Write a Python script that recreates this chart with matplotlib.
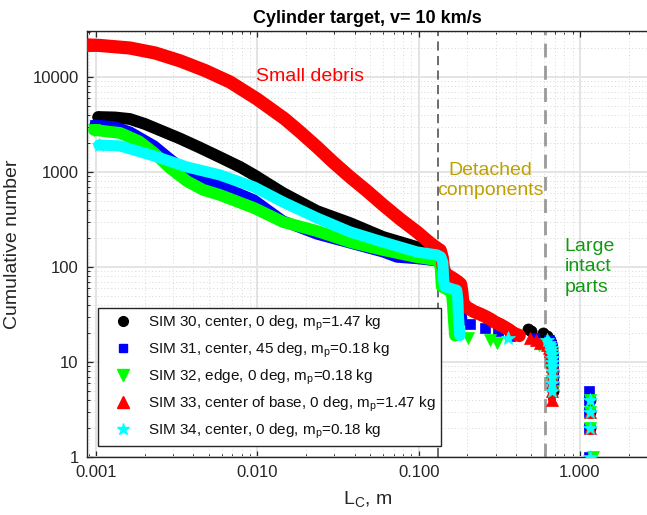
import matplotlib
matplotlib.use('Agg')
import matplotlib.pyplot as plt
from matplotlib.lines import Line2D
from matplotlib.ticker import FixedLocator, FixedFormatter, NullFormatter

plt.rcParams['font.family'] = ['Liberation Sans', 'DejaVu Sans']
plt.rcParams['mathtext.default'] = 'regular'

# ---------------- data ----------------
# SIM 30 (black circles)
s30_x = [0.00103, 0.00131, 0.00162, 0.00201, 0.00249, 0.00331, 0.00441, 0.00586, 0.0078,
         0.00953, 0.0144, 0.0234, 0.0375, 0.0601, 0.0976, 0.1298, 0.137, 0.141, 0.143,
         0.150, 0.170, 0.177, 0.179, 0.182]
s30_n = [3790, 3750, 3610, 3200, 2750, 2250, 1800, 1430, 1130,
         930, 601, 388, 290, 207, 162, 140, 130, 110, 75,
         63, 58, 50, 35, 28]
s30_px = [0.310, 0.318, 0.328, 0.476, 0.500, 0.590, 0.620]
s30_pn = [26, 25, 23, 22, 21, 20, 19]
s30_cx = [0.635, 0.648, 0.658, 0.664, 0.668, 0.670, 0.672, 0.673, 0.674, 0.675, 0.676, 0.676, 0.677, 0.677]
s30_cn = [18, 17, 16, 15, 14, 13, 12, 11, 10, 9, 8, 7, 6, 5]
s30_lx = [1.15, 1.15, 1.15, 1.15]
s30_ln = [4, 3, 2, 1]

# SIM 31 (blue squares)
s31_x = [0.000985, 0.00131, 0.00162, 0.00229, 0.00287, 0.00366, 0.00473, 0.00586, 0.00953,
         0.0144, 0.0234, 0.0375, 0.0601, 0.0733, 0.100, 0.1298, 0.138, 0.142, 0.150,
         0.170, 0.178, 0.181, 0.183, 0.185]
s31_n = [3125, 2976, 2636, 1879, 1371, 1000, 824, 720, 507,
         305, 222, 179, 144, 127, 122, 116, 110, 75, 62,
         58, 57, 50, 35, 27]
s31_px = [0.208, 0.258, 0.310, 0.368, 0.520]
s31_pn = [25, 23, 21, 19, 18]
s31_cx = [0.640, 0.652, 0.662, 0.668, 0.672, 0.675, 0.677, 0.678, 0.679, 0.680, 0.681, 0.682]
s31_cn = [17, 16, 15, 14, 13, 12, 11, 10, 9, 8, 7, 6]
s31_lx = [1.14, 1.14, 1.14, 1.14, 1.14]
s31_ln = [5, 4, 3, 2, 1]

# SIM 32 (green down-triangles)
s32_x = [0.00097, 0.00141, 0.00185, 0.00229, 0.00287, 0.00366, 0.0046, 0.00586, 0.00953,
         0.0144, 0.0234, 0.0375, 0.0601, 0.0976, 0.1298, 0.134, 0.137, 0.138, 0.139,
         0.150, 0.160, 0.163, 0.165, 0.168]
s32_n = [2768, 2575, 2100, 1585, 1100, 800, 650, 573, 418,
         298, 239, 183, 151, 127, 118, 112, 95, 75, 62,
         58, 55, 40, 28, 19]
s32_px = [0.202, 0.277, 0.305, 0.560]
s32_pn = [18, 17, 16, 15]
s32_cx = [0.630, 0.645, 0.656, 0.663, 0.667, 0.670, 0.672, 0.674, 0.675, 0.676]
s32_cn = [14, 13, 12, 11, 10, 9, 8, 7, 6, 5]
s32_lx = [1.16, 1.16, 1.16, 1.20]
s32_ln = [4, 3, 2, 1]

# SIM 33 (red up-triangles)
s33_x = [0.000891, 0.00106, 0.00162, 0.00232, 0.00331, 0.00473, 0.00676, 0.00995, 0.0148,
         0.0184, 0.0234, 0.0294, 0.0375, 0.0478, 0.0601, 0.0766, 0.0976, 0.1175, 0.1298,
         0.136, 0.140, 0.142, 0.146, 0.155, 0.165, 0.175, 0.182, 0.185, 0.187, 0.190,
         0.202, 0.220, 0.240, 0.260, 0.280, 0.300, 0.330, 0.360, 0.390, 0.420]
s33_n = [21730, 21460, 20180, 17900, 14800, 11700, 8860, 5860, 3612,
         2636, 1834, 1274, 886, 631, 450, 320, 234, 179, 158,
         150, 125, 100, 85, 80, 75, 70, 66, 55, 45, 40,
         37, 34, 32, 30, 28, 26, 24, 22, 20, 19]
s33_px = [0.490, 0.530, 0.565]
s33_pn = [18, 17, 16]
s33_cx = [0.620, 0.640, 0.650, 0.660, 0.665, 0.668, 0.670, 0.670, 0.672, 0.672, 0.670, 0.670]
s33_cn = [15, 14, 13, 12, 11, 10, 9, 8, 7, 6, 5, 4]
s33_lx = [1.15, 1.15, 1.15]
s33_ln = [3, 2, 1]

# SIM 34 (cyan stars)
s34_x = [0.00104, 0.00141, 0.00229, 0.00366, 0.00586, 0.00953, 0.0144, 0.0234, 0.0375,
         0.0601, 0.0976, 0.1298, 0.137, 0.141, 0.142, 0.143, 0.145, 0.155, 0.165,
         0.172, 0.175, 0.176, 0.178, 0.180]
s34_n = [1925, 1879, 1473, 1129, 930, 695, 483, 328, 234,
         183, 144, 134, 128, 112, 90, 72, 62, 60, 58,
         57, 45, 32, 24, 19]
s34_px = [0.358]
s34_pn = [18]
s34_cx = [0.620, 0.640, 0.650, 0.660, 0.665, 0.670, 0.670, 0.672, 0.672, 0.675, 0.675, 0.672, 0.670]
s34_cn = [17, 16, 15, 14, 13, 12, 11, 10, 9, 8, 7, 6, 5]
s34_lx = [1.15, 1.15, 1.15, 1.15]
s34_ln = [4, 3, 2, 1]

labels = [r'SIM 30, center, 0 deg, m$_p$=1.47 kg',
          r'SIM 31, center, 45 deg, m$_p$=0.18 kg',
          r'SIM 32, edge, 0 deg, m$_p$=0.18 kg',
          r'SIM 33, center of base, 0 deg, m$_p$=1.47 kg',
          r'SIM 34, center, 0 deg, m$_p$=0.18 kg']
colors = ['#000000', '#0000FF', '#00FF00', '#FF0000', '#00FFFF']
markers = ['o', 's', 'v', '^', '*']
msizes = [8, 7, 9, 9, 10]
lwidths = [8.5, 8, 8.5, 9.5, 8]

xticks = [0.001, 0.01, 0.1, 1.0]
xticklabels = ['0.001', '0.010', '0.100', '1.000']
yticks = [1, 10, 100, 1000, 10000]
yticklabels = ['1', '10', '100', '1000', '10000']

boundary1 = 0.131
boundary2 = 0.607

# ---------------- figure ----------------
fig = plt.figure(figsize=(6.47, 5.15), dpi=100)
ax = fig.add_axes([87 / 647, 58 / 515, 561 / 647, 426 / 515])
ax.set_xscale('log')
ax.set_yscale('log')
ax.set_xlim(0.000878, 2.64)
ax.set_ylim(1, 30480)

ax.set_axisbelow(True)
ax.grid(True, which='major', color='#e4e4e4', lw=1.4, ls='-')
ax.grid(True, which='minor', color='#d8d8d8', lw=0.7, ls=(0, (1, 2.5)))

ax.axvline(boundary1, color='#444444', lw=1.1, ls=(0, (6, 3.5)), zorder=1.5)
ax.axvline(boundary2, color='#9a9a9a', lw=2.0, ls=(0, (5, 3)), zorder=1.5)

series = [
    (s30_x, s30_n, s30_px, s30_pn, s30_cx, s30_cn, s30_lx, s30_ln),
    (s31_x, s31_n, s31_px, s31_pn, s31_cx, s31_cn, s31_lx, s31_ln),
    (s32_x, s32_n, s32_px, s32_pn, s32_cx, s32_cn, s32_lx, s32_ln),
    (s33_x, s33_n, s33_px, s33_pn, s33_cx, s33_cn, s33_lx, s33_ln),
    (s34_x, s34_n, s34_px, s34_pn, s34_cx, s34_cn, s34_lx, s34_ln),
]

for i, (bx, bn, px, pn, cx, cn, lx, ln) in enumerate(series):
    c, m, ms, lw = colors[i], markers[i], msizes[i], lwidths[i]
    z = 3 + i
    kw = dict(color=c, marker=m, ms=ms, mec=c, mew=0.5, zorder=z)
    ax.plot(bx, bn, lw=lw, solid_capstyle='round', solid_joinstyle='round',
            markevery=[0], **kw)
    ax.plot(px, pn, ls='none', **kw)
    ax.plot(cx, cn, lw=lw * 0.6, solid_capstyle='round', **kw)
    ax.plot(lx, ln, ls='none', **kw)

ax.xaxis.set_major_locator(FixedLocator(xticks))
ax.xaxis.set_major_formatter(FixedFormatter(xticklabels))
ax.xaxis.set_minor_formatter(NullFormatter())
ax.yaxis.set_major_locator(FixedLocator(yticks))
ax.yaxis.set_major_formatter(FixedFormatter(yticklabels))
ax.yaxis.set_minor_formatter(NullFormatter())

ax.tick_params(which='both', direction='in', top=True, right=False,
               color='#262626', labelcolor='#262626', labelsize=12)
ax.tick_params(which='major', length=4, width=0.9, pad=6)
ax.tick_params(which='minor', length=2.4, width=0.7)
for s in ['left', 'bottom', 'top']:
    ax.spines[s].set_color('#262626')
    ax.spines[s].set_linewidth(1.0)
ax.spines['right'].set_visible(False)

ax.set_xlabel(r'L$_C$, m', fontsize=14, color='#262626', labelpad=6)
ax.set_ylabel('Cumulative number', fontsize=14, color='#262626', labelpad=8)
ax.set_title('Cylinder target, v= 10 km/s', fontsize=13, fontweight='bold', pad=6)

ax.text(0.0212, 10000, 'Small debris', color='#FF0000', fontsize=14,
        ha='center', va='center', zorder=10)
ax.text(0.277, 814, 'Detached\ncomponents', color='#BFA000', fontsize=14,
        ha='center', va='center', linespacing=1.25, zorder=10)
ax.text(0.80, 100, 'Large\nintact\nparts', color='#119911', fontsize=14,
        ha='left', va='center', linespacing=1.3, zorder=10)

handles = [Line2D([], [], ls='none', marker=markers[i], color=colors[i],
                  mec=colors[i], ms=[7, 6, 8, 8, 9][i]) for i in range(5)]
leg = ax.legend(handles, labels, loc='lower left',
                bbox_to_anchor=(11 / 561, 11 / 426), borderaxespad=0,
                fontsize=11, frameon=True, fancybox=False, framealpha=1,
                edgecolor='#262626', labelspacing=0.5, handlelength=2.6,
                handletextpad=0.3, borderpad=0.35)
leg.get_frame().set_linewidth(1.0)
leg.set_zorder(20)
for t in leg.get_texts():
    t.set_color('#111111')

fig.savefig('out.png', dpi=100)
